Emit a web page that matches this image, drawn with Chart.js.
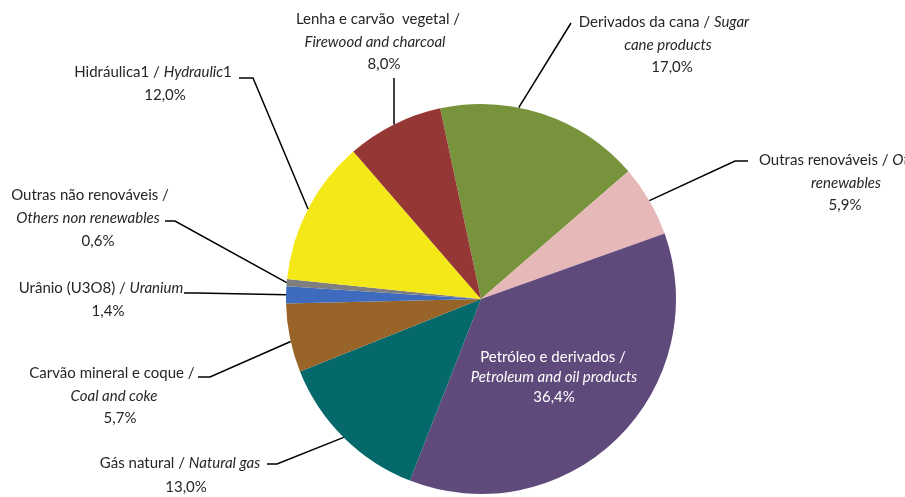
<!DOCTYPE html>
<html>
<head>
<meta charset="utf-8">
<script src="https://cdn.jsdelivr.net/npm/chart.js@4"></script>
<style>
  html, body { margin: 0; padding: 0; background: #ffffff; }
  #wrap { width: 905px; height: 497px; position: relative; }
</style>
</head>
<body>
<div id="wrap"><canvas id="chart" width="905" height="497"></canvas></div>
<script>
// Categorias (ordem horária a partir do topo)
const categories = ['Derivados da cana', 'Outras renováveis', 'Petróleo e derivados', 'Gás natural',
  'Carvão mineral e coque', 'Urânio (U3O8)', 'Outras não renováveis', 'Hidráulica1', 'Lenha e carvão vegetal'];
const values = [17.0, 5.9, 36.4, 13.0, 5.7, 1.4, 0.6, 12.0, 8.0];
const colors = ['#77933C', '#E6B9B8', '#604A7B', '#05686A', '#986428', '#3F6BBE', '#7F7F7F', '#F4E818', '#953735'];

// Texto dos rótulos: *texto* = itálico
const labelText = [
  ['Derivados da cana / *Sugar*', '*cane products*'],
  ['Outras renováveis / *Others*', '*renewables*'],
  ['Petróleo e derivados /', '*Petroleum and oil products*'],
  ['Gás natural / *Natural gas*'],
  ['Carvão mineral e coque /', '*Coal and coke*'],
  ['Urânio (U3O8) / *Uranium*'],
  ['Outras não renováveis /', '*Others non renewables*'],
  ['Hidráulica1 / *Hydraulic*1'],
  ['Lenha e carvão  vegetal /', '*Firewood and charcoal*']
];

// Posição dos rótulos (centro de cada linha) e das linhas de chamada
const labelLayout = [
  { lines: [[664, 22], [668, 45], [672, 67]], frac: 0.38, leader: [[571, 23]] },
  { lines: [[847, 160], [846, 183], [845, 205]], frac: 0.5, leader: [[735, 161], [748, 161]] },
  { lines: [[553, 357], [554, 377], [554, 397]], white: true },
  { lines: [[180, 463], [186, 487]], frac: 0.5, leader: [[277, 464], [267, 464]] },
  { lines: [[112, 373], [114, 396], [120, 418]], frac: 0.45, leader: [[210, 377], [198, 377]] },
  { lines: [[101, 288], [108, 311]], frac: 0.5, leader: [[197, 293], [184, 293]] },
  { lines: [[90, 195], [88, 218], [98, 241]], frac: 0.5, leader: [[175, 221], [165, 221]] },
  { lines: [[153, 72], [165, 95]], frac: 0.5, leader: [[253, 78], [239, 78]] },
  { lines: [[378, 19], [375, 42], [384, 64]], frac: 0.5, leader: [[394, 78]] }
];

const FONT = 'Lato, "Open Sans", sans-serif';
const SIZE = 15;

function parseSegments(str) {
  const parts = str.split('*');
  return parts.map((t, i) => ({ text: t, italic: i % 2 === 1 })).filter(s => s.text.length);
}

function drawLine(ctx, str, cx, cy, color) {
  const segs = parseSegments(str);
  let w = 0;
  segs.forEach(s => {
    ctx.font = (s.italic ? 'italic ' : '') + SIZE + 'px ' + FONT;
    s.w = ctx.measureText(s.text).width;
    w += s.w;
  });
  let x = cx - w / 2;
  ctx.fillStyle = color;
  ctx.textAlign = 'left';
  ctx.textBaseline = 'middle';
  segs.forEach(s => {
    ctx.font = (s.italic ? 'italic ' : '') + SIZE + 'px ' + FONT;
    ctx.fillText(s.text, x, cy);
    x += s.w;
  });
}

const pieLabels = {
  id: 'pieLabels',
  afterDatasetsDraw(chart) {
    const ctx = chart.ctx;
    const arcs = chart.getDatasetMeta(0).data;
    ctx.save();
    arcs.forEach((arc, i) => {
      const lay = labelLayout[i];
      const color = lay.white ? '#ffffff' : '#262626';
      const lines = labelText[i].concat([values[i].toFixed(1).replace('.', ',') + '%']);
      lines.forEach((ln, j) => drawLine(ctx, ln, lay.lines[j][0], lay.lines[j][1], color));
      if (lay.leader) {
        const p = arc.getProps(['x', 'y', 'startAngle', 'endAngle', 'outerRadius'], true);
        const a = p.startAngle + lay.frac * (p.endAngle - p.startAngle);
        ctx.beginPath();
        ctx.moveTo(p.x + p.outerRadius * Math.cos(a), p.y + p.outerRadius * Math.sin(a));
        lay.leader.forEach(pt => ctx.lineTo(pt[0], pt[1]));
        ctx.strokeStyle = '#000000';
        ctx.lineWidth = 1.5;
        ctx.stroke();
      }
    });
    ctx.restore();
  }
};

new Chart(document.getElementById('chart'), {
  type: 'pie',
  data: {
    labels: categories,
    datasets: [{
      data: values,
      backgroundColor: colors,
      borderWidth: 0
    }]
  },
  options: {
    responsive: false,
    animation: false,
    rotation: -12.1,
    layout: { padding: { left: 286, right: 229, top: 104, bottom: 3 } },
    plugins: {
      legend: { display: false },
      tooltip: { enabled: false }
    }
  },
  plugins: [pieLabels]
});
</script>
</body>
</html>
